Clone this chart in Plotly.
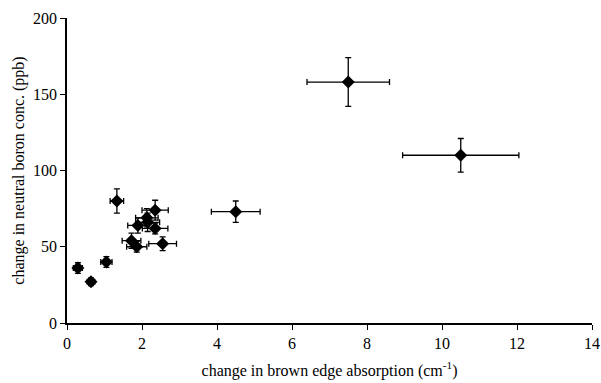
import plotly.graph_objects as go

x_vals = [0.29, 0.64, 1.05, 1.33, 1.72, 1.86, 1.89, 2.13, 2.15, 2.35, 2.35, 2.55, 4.5, 7.5, 10.5]
y_vals = [36, 27, 40, 80, 54, 50, 64, 69, 66, 74, 62, 52, 73, 158, 110]
x_err = [0.12, 0.1, 0.15, 0.18, 0.25, 0.27, 0.27, 0.3, 0.32, 0.35, 0.34, 0.37, 0.65, 1.1, 1.55]
y_err = [3.5, 2.5, 3.5, 8, 5, 3.5, 5, 6, 6, 6.5, 3.5, 4.5, 7, 16, 11]

fig = go.Figure()
fig.add_trace(go.Scatter(
    x=x_vals, y=y_vals, mode="markers",
    marker=dict(symbol="diamond", size=10, color="black"),
    error_x=dict(type="data", array=x_err, visible=True, color="black", thickness=1.3, width=3),
    error_y=dict(type="data", array=y_err, visible=True, color="black", thickness=1.3, width=3),
    showlegend=False,
))

tickfont = dict(family="Liberation Serif, serif", size=16, color="black")
titlefont = dict(family="Liberation Serif, serif", size=16, color="black")
fig.update_layout(
    width=601, height=383,
    margin=dict(l=67, r=9, t=18, b=60),
    paper_bgcolor="white", plot_bgcolor="white",
    font=tickfont,
    xaxis=dict(
        range=[0, 14], tickvals=[0, 2, 4, 6, 8, 10, 12, 14],
        showline=True, linecolor="black", linewidth=1.5,
        ticks="outside", ticklen=5, tickcolor="black",
        showgrid=False, zeroline=False, tickfont=tickfont,
        ticklabeloverflow="allow", automargin=False,
        title=dict(text="change in brown edge absorption (cm<sup>-1</sup>)", font=titlefont, standoff=14),
    ),
    yaxis=dict(
        range=[0, 200], tickvals=[0, 50, 100, 150, 200],
        showline=True, linecolor="black", linewidth=1.5,
        ticks="outside", ticklen=5, tickcolor="black",
        showgrid=False, zeroline=False, tickfont=tickfont, automargin=False,
        title=dict(text="change in neutral boron conc. (ppb)", font=titlefont, standoff=4),
    ),
)
fig.write_html("out.html")
